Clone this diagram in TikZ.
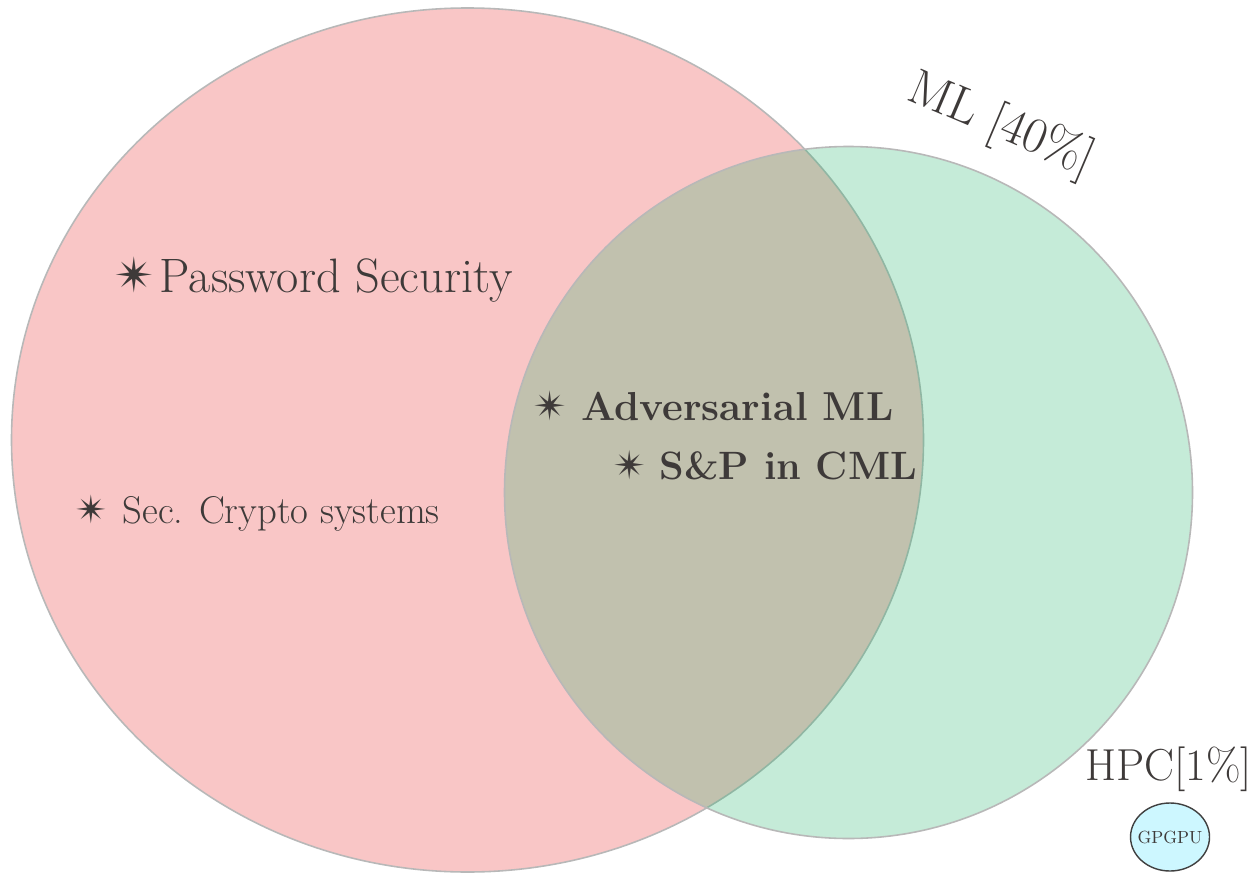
\documentclass[tikz,border=0pt]{standalone}
\usepackage{fontspec}
\newfontfamily\symfont{DejaVu Sans}
\usetikzlibrary{shapes.geometric}
\definecolor{secred}{RGB}{238,68,68}
\definecolor{mlgreen}{RGB}{27,179,103}
\definecolor{txtgray}{RGB}{62,58,57}
\definecolor{gpucyan}{RGB}{205,247,255}
\newcommand{\spark}{{\symfont ✴}}
\begin{document}
\begin{tikzpicture}[x=0.2mm, y=-0.2mm,
    topic/.style={anchor=base west, text=txtgray, inner sep=0pt},
    venn/.style={draw=black!28, line width=0.9pt}]
    % Cornice
    \fill[white] (0,0) rectangle (1255,876);
    \useasboundingbox (0,0) rectangle (1255,876);

    % Insiemi
    \draw[venn, fill=secred, fill opacity=0.3] (467.5,440) ellipse [x radius=456, y radius=432];
    \draw[venn, fill=mlgreen, fill opacity=0.25] (848.5,492.5) ellipse [x radius=344, y radius=346];

    % Argomenti
    \node[topic, font=\fontsize{27.5}{29}\selectfont] (pwd) at (114,292) {\spark\hspace{1mm}Password Security};
    \node[topic, font=\fontsize{22}{23}\selectfont] (crypto) at (75,523) {\spark\hspace{3mm}Sec. Crypto systems};
    \node[topic, font=\fontsize{23}{24}\selectfont\bfseries] (advml) at (533,420) {\spark\hspace{2.8mm}Adversarial ML};
    \node[topic, font=\fontsize{22.5}{24}\selectfont\bfseries] (spcml) at (613,479) {\spark\hspace{2.6mm}S\&P in CML};

    % Etichette degli insiemi
    \node[text=txtgray, rotate=-23, font=\fontsize{28.5}{30}\selectfont] (mllabel) at (1001,126) {ML [40\%]};
    \node[topic, font=\fontsize{25.5}{27}\selectfont] (hpclabel) at (1085,780) {HPC[1\%]};
    \node[ellipse, draw=black!75, line width=0.8pt, fill=gpucyan, minimum width=15.8mm, minimum height=13.6mm,
          inner xsep=-1.2mm, inner ysep=0pt, text=txtgray, font=\fontsize{10}{11}\selectfont] (gpgpu) at (1170,837) {GPGPU};
\end{tikzpicture}
\end{document}
